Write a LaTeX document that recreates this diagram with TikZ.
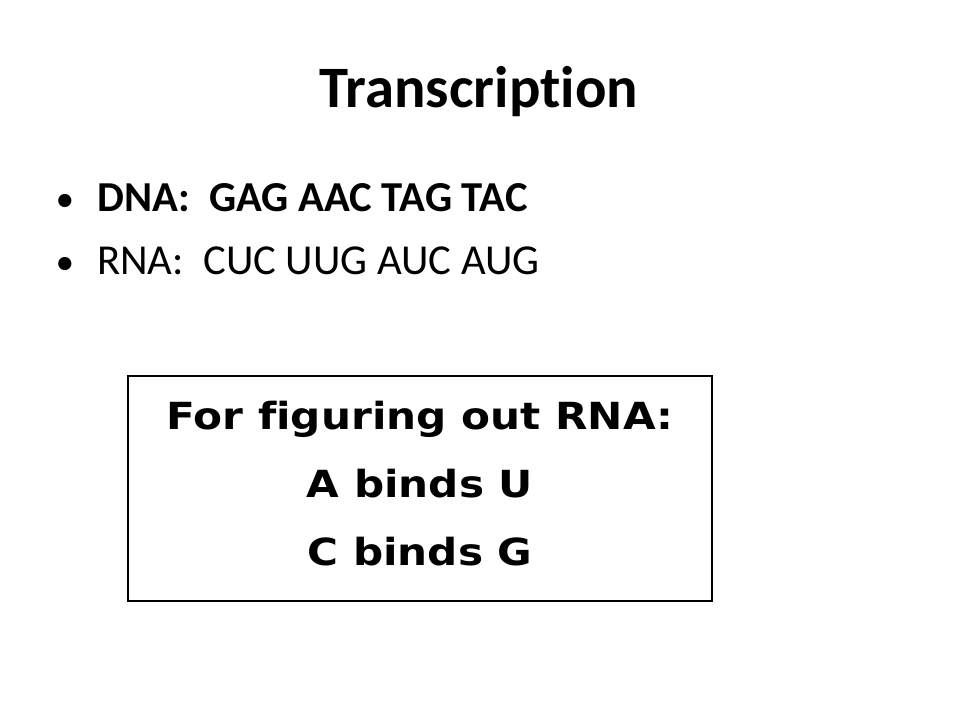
\documentclass[tikz,border=0pt]{standalone}
\usepackage{fontspec}
\setmainfont{Carlito}[Ligatures=NoCommon]
\newfontfamily\rulefont{DejaVu Sans}[Ligatures=NoCommon, FakeStretch=1.13]

\begin{document}
\begin{tikzpicture}[x=0.75pt, y=-0.75pt,
		bulletline/.style = {anchor=base west, inner sep=0pt, font=\fontsize{32}{38}\selectfont},
		bulletdot/.style = {anchor=base, inner sep=0pt, font=\fontsize{28}{34}\selectfont},
		ruleline/.style = {anchor=base, inner sep=0pt, font=\rulefont\bfseries\fontsize{28}{34}\selectfont}]
			\useasboundingbox (0,0) rectangle (960,720);
			\node[anchor=base, inner sep=0pt, font=\fontsize{44}{53}\selectfont\bfseries] (title) at (479,108) {Transcription};
			\node[bulletdot] (dotdna) at (65,212) {•};
			\node[bulletline, font=\fontsize{32}{38}\selectfont\bfseries] (dna) at (97,212) {DNA:\ \ GAG AAC TAG TAC};
			\node[bulletdot] (dotrna) at (65,275) {•};
			\node[bulletline] (rna) at (97,275) {RNA:\ \ CUC UUG AUC AUG};
			\node[draw, line width=1pt, minimum width=438pt, minimum height=168.75pt] (rulebox) at (420,488.5) {};
			\node[ruleline] (rulehead) at (420,429) {For figuring out RNA:};
			\node[ruleline] (ruleau) at (420,497) {A binds U};
			\node[ruleline] (rulecg) at (420,565) {C binds G};
\end{tikzpicture}
\end{document}
